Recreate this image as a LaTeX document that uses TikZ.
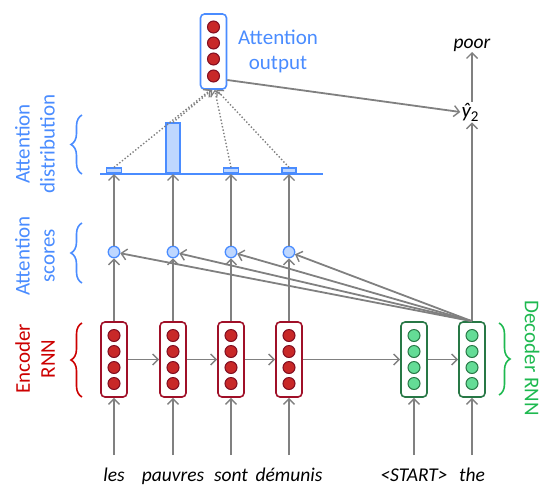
\documentclass[tikz,border=0pt]{standalone}
\usepackage{fontspec}
\setmainfont{Carlito}
\usetikzlibrary{arrows.meta,decorations.pathreplacing,calc}
\definecolor{attblue}{RGB}{74,140,255}
\definecolor{attfill}{RGB}{190,215,255}
\definecolor{encred}{RGB}{160,16,40}
\definecolor{encdot}{RGB}{200,40,40}
\definecolor{enclabel}{RGB}{204,0,0}
\definecolor{decgreen}{RGB}{40,120,70}
\definecolor{decdot}{RGB}{100,220,150}
\definecolor{declabel}{RGB}{30,185,80}
\definecolor{arrgray}{RGB}{128,128,128}
\tikzset{
  cellbox/.style={draw, line width=1.6pt, rounded corners=4pt, minimum width=26pt, minimum height=75pt, inner sep=0pt, fill=white},
  encdotst/.style={circle, draw=encred!80!black, fill=encdot, line width=1pt, minimum size=12pt, inner sep=0pt},
  decdotst/.style={circle, draw=decgreen, fill=decdot, line width=1pt, minimum size=12pt, inner sep=0pt},
  scorest/.style={circle, draw=attblue, fill=attfill, line width=1.3pt, minimum size=11.5pt, inner sep=0pt},
  barst/.style={draw=attblue, fill=attfill, line width=1.6pt},
  arr/.style={draw=arrgray, line width=1.8pt, -{Straight Barb[length=5.5pt,width=11pt,line width=1.4pt]}},
  dotarr/.style={draw=arrgray, line width=1.4pt, dotted, -{Straight Barb[length=5pt,width=10pt,line width=1.2pt]}},
  word/.style={font=\fontsize{19.5}{21}\selectfont\itshape, inner sep=2pt, anchor=base},
  lab/.style={font=\fontsize{21}{25}\selectfont, align=center},
  bracest/.style={decorate, decoration={brace, amplitude=11pt}, line width=1.6pt},
}
\begin{document}
\begin{tikzpicture}[x=1pt,y=-1pt]
\useasboundingbox (0,0) rectangle (553,496);

% encoder cells
\foreach \n/\x in {e1/114,e2/173,e3/231,e4/289}{
  \node[cellbox, draw=encred] (\n) at (\x,359.5) {};
  \foreach \dy in {-24,-8,8,24}
    \node[encdotst] at ($(\n.center)+(0,\dy)$) {};
}
% decoder cells
\foreach \n/\x in {d1/414,d2/472}{
  \node[cellbox, draw=decgreen] (\n) at (\x,359.5) {};
  \foreach \dy in {-24,-8,8,24}
    \node[decdotst] at ($(\n.center)+(0,\dy)$) {};
}
% attention output
\node[cellbox, draw=attblue] (att) at (213.5,51.5) {};
\foreach \dy in {-24.5,-8.5,7.5,24.5}
  \node[encdotst] at ($(att.center)+(0,\dy)$) {};
\node[lab, text=attblue] (attlab) at (278,51) {Attention\\output};

% words
\node[word] (w1) at (114,481) {les};
\node[word] (w2) at (173,481) {pauvres};
\node[word] (w3) at (231,481) {sont};
\node[word] (w4) at (289,481) {démunis};
\node[word] (w5) at (414,481) {<START>};
\node[word] (w6) at (472,481) {the};
\foreach \w/\c in {w1/e1,w2/e2,w3/e3,w4/e4,w5/d1,w6/d2}
  \draw[arr] ($(\w.base)+(0,-26)$) -- (\c.south);

% horizontal RNN arrows
\draw[arr] (e1.east) -- (e2.west);
\draw[arr] (e2.east) -- (e3.west);
\draw[arr] (e3.east) -- (e4.west);
\draw[arr] (e4.east) -- (d1.west);
\draw[arr] (d1.east) -- (d2.west);

% attention scores
\foreach \n/\x in {s1/114,s2/173,s3/231,s4/289}
  \node[scorest] (\n) at (\x,252) {};
\foreach \c/\s in {e1/s1,e2/s2,e3/s3,e4/s4}
  \draw[arr] (\c.north) -- (\s.south);
\foreach \s in {s1,s2,s3,s4}
  \draw[arr] (d2.north) -- (\s);

% attention distribution
\draw[draw=attblue, line width=1.6pt] (100,174) coordinate (bl) -- (323,174) coordinate (br);
\node[barst, minimum width=15pt, minimum height=5pt, inner sep=0pt, anchor=south] (b1) at (114,174) {};
\node[barst, minimum width=14pt, minimum height=50pt, inner sep=0pt, anchor=south] (b2) at (173,174) {};
\node[barst, minimum width=15pt, minimum height=5pt, inner sep=0pt, anchor=south] (b3) at (231,174) {};
\node[barst, minimum width=14pt, minimum height=5pt, inner sep=0pt, anchor=south] (b4) at (289,174) {};
\foreach \s/\b in {s1/b1,s2/b2,s3/b3,s4/b4}
  \draw[arr] (\s.north) -- (\b.south);
\foreach \b/\dx in {b1/-5,b2/-2,b3/2,b4/5}
  \draw[dotarr] (\b.north) -- ($(att.south)+(\dx*0.6,0)$);

% output
\node[font=\fontsize{21}{22}\selectfont\itshape, inner sep=1pt] (yhat) at (470,112) {ŷ\raisebox{-4pt}{\upshape\fontsize{15}{15}\selectfont 2}};
\node[word] (poor) at (472,48) {poor};
\draw[arr] (att.east |- 0,80) -- (yhat.west);
\draw[arr] (d2.north) -- (yhat.south -| d2.north);
\draw[arr] (yhat.north -| d2.north) -- ($(poor.base)+(0,4)$);

% braces and labels
\draw[bracest, draw=attblue] (82,174) -- (82,115);
\node[lab, text=attblue, rotate=90] at (35,144) {Attention\\distribution};
\draw[bracest, draw=attblue] (82,283) -- (82,223);
\node[lab, text=attblue, rotate=90] at (35,256) {Attention\\scores};
\draw[bracest, draw=enclabel] (82,397) -- (82,323);
\node[lab, text=enclabel, rotate=90] at (35,359) {Encoder\\RNN};
\draw[bracest, draw=declabel] (499,323) -- (499,395);
\node[lab, text=declabel, rotate=-90] at (532,358) {Decoder RNN};
\end{tikzpicture}
\end{document}
